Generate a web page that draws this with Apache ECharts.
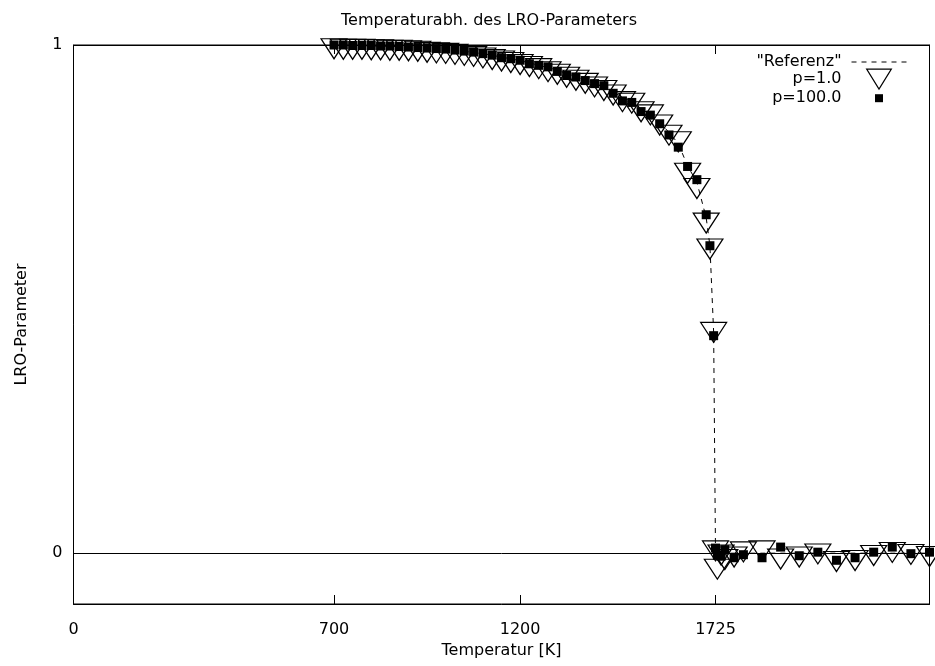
<!DOCTYPE html>
<html>
<head>
    <meta charset="utf-8">
    <title>Temperaturabh. des LRO-Parameters</title>
    <style>
        body {
            margin: 0;
            padding: 0;
            background-color: #fff;
        }
        #chart {
            width: 935px;
            height: 666px;
        }
    </style>
</head>
<body>
    <div id="chart"></div>

    <script src="https://cdn.jsdelivr.net/npm/echarts@6.0.0/dist/echarts.min.js"></script>
    <script>
        // Temperatur [K] der Messpunkte
        const temps = [700, 725, 750, 775, 800, 825, 850, 875, 900, 925, 950, 975, 1000, 1025, 1050, 1075,
            1100, 1125, 1150, 1175, 1200, 1225, 1250, 1275, 1300, 1325, 1350, 1375, 1400, 1425, 1450, 1475,
            1500, 1525, 1550, 1575, 1600, 1625, 1650, 1675, 1700, 1710, 1720,
            1725, 1730, 1740, 1750, 1775, 1800, 1850, 1900, 1950, 2000, 2050, 2100, 2150, 2200, 2250, 2300];

        // LRO-Parameter
        const lroRef = [1.000, 1.000, 0.999, 0.999, 0.998, 0.998, 0.997, 0.997, 0.996, 0.995, 0.994, 0.992, 0.991, 0.990, 0.988, 0.985,
            0.983, 0.980, 0.976, 0.973, 0.969, 0.965, 0.960, 0.956, 0.950, 0.944, 0.938, 0.931, 0.924, 0.917, 0.908, 0.897,
            0.888, 0.874, 0.864, 0.848, 0.828, 0.806, 0.762, 0.730, 0.660, 0.605, 0.435,
            0.000, 0.000, 0.000, 0.000, 0.000, 0.000, 0.000, 0.000, 0.000, 0.000, 0.000, 0.000, 0.000, 0.000, 0.000, 0.000];
        const lroP1 = [1.000, 0.999, 0.999, 0.999, 0.998, 0.998, 0.997, 0.997, 0.996, 0.995, 0.993, 0.992, 0.991, 0.989, 0.987, 0.985,
            0.982, 0.979, 0.976, 0.973, 0.969, 0.965, 0.961, 0.955, 0.950, 0.944, 0.938, 0.932, 0.925, 0.918, 0.909, 0.896,
            0.893, 0.876, 0.870, 0.850, 0.830, 0.817, 0.755, 0.725, 0.657, 0.606, 0.442,
            0.012, -0.024, 0.004, -0.005, 0.000, 0.010, 0.012, -0.004, 0.000, 0.006, -0.009, -0.007, 0.003, 0.009, 0.005, 0.001];
        const lroP100 = [1.000, 1.000, 0.999, 0.999, 0.999, 0.998, 0.998, 0.997, 0.996, 0.995, 0.994, 0.993, 0.992, 0.990, 0.988, 0.986,
            0.983, 0.980, 0.975, 0.973, 0.970, 0.963, 0.960, 0.957, 0.948, 0.940, 0.937, 0.930, 0.924, 0.920, 0.905, 0.890,
            0.887, 0.869, 0.862, 0.845, 0.823, 0.799, 0.761, 0.735, 0.666, 0.605, 0.428,
            0.010, -0.004, -0.006, 0.007, -0.009, -0.003, -0.009, 0.012, -0.005, 0.002, -0.014, -0.009, 0.002, 0.012, -0.001, 0.002];

        const xTicks = [0, 700, 1200, 1725];
        const yTicks = [0, 1];

        const font = '"DejaVu Sans", sans-serif';
        const triangle = 'path://M0,0 L200,0 L100,162 Z';

        function pairs(ys) {
            return temps.map((t, i) => [t, ys[i]]);
        }

        const chart = echarts.init(document.getElementById('chart'));

        const xAxisBase = {
            type: 'value',
            min: 0,
            max: 2300,
            axisLine: { show: true, onZero: false, lineStyle: { color: '#000', width: 1 } },
            axisTick: { show: true, inside: true, length: 9, customValues: xTicks, lineStyle: { color: '#000' } },
            splitLine: { show: false }
        };
        const yAxisBase = {
            type: 'value',
            min: -0.1,
            max: 1,
            axisLine: { show: true, onZero: false, lineStyle: { color: '#000', width: 1 } },
            axisTick: { show: true, inside: true, length: 9, customValues: yTicks, lineStyle: { color: '#000' } },
            splitLine: { show: false }
        };

        const option = {
            animation: false,
            title: {
                text: 'Temperaturabh. des LRO-Parameters',
                left: 336,
                top: 8,
                textStyle: { fontFamily: font, fontSize: 16, fontWeight: 'normal', color: '#000' }
            },
            grid: {
                left: 73.5,
                right: 5.5,
                top: 45,
                bottom: 62,
                show: true,
                borderColor: '#000',
                borderWidth: 1
            },
            legend: {
                orient: 'vertical',
                align: 'right',
                right: 28,
                top: 54,
                padding: 0,
                itemWidth: 55,
                itemHeight: 20,
                itemGap: -1.5,
                selectedMode: false,
                textStyle: { fontFamily: font, fontSize: 16, color: '#000', padding: [0, 5, 0, 0] },
                data: [
                    { name: '"Referenz"', itemStyle: { opacity: 0 }, lineStyle: { width: 1 } },
                    { name: 'p=1.0', icon: triangle, itemStyle: { color: 'rgba(0,0,0,0)', borderColor: '#000', borderWidth: 1.2 } },
                    { name: 'p=100.0', icon: 'path://M0,0 M20,20 M6,6 L14,6 L14,14 L6,14 Z', itemStyle: { color: '#000', borderWidth: 0 } }
                ]
            },
            xAxis: [
                Object.assign({}, xAxisBase, {
                    position: 'bottom',
                    name: 'Temperatur [K]',
                    nameLocation: 'middle',
                    nameGap: 36,
                    nameTextStyle: { fontFamily: font, fontSize: 16, color: '#000' },
                    axisLabel: {
                        customValues: xTicks, margin: 18, fontFamily: font, fontSize: 16, color: '#000',
                        formatter: v => String(v)
                    }
                }),
                Object.assign({}, xAxisBase, {
                    position: 'top',
                    axisLabel: { show: false }
                })
            ],
            yAxis: [
                Object.assign({}, yAxisBase, {
                    position: 'left',
                    name: 'LRO-Parameter',
                    nameLocation: 'middle',
                    nameGap: 44,
                    nameRotate: 90,
                    nameTextStyle: { fontFamily: font, fontSize: 16, color: '#000' },
                    axisLabel: {
                        customValues: yTicks, margin: 11, fontFamily: font, fontSize: 16, color: '#000',
                        formatter: v => String(v)
                    }
                }),
                Object.assign({}, yAxisBase, {
                    position: 'right',
                    axisLabel: { show: false }
                })
            ],
            series: [
                {
                    name: '"Referenz"',
                    type: 'line',
                    data: pairs(lroRef),
                    symbol: 'none',
                    lineStyle: { color: '#000', width: 1, type: [5, 5] },
                    itemStyle: { color: '#000' },
                    z: 1,
                    markLine: {
                        silent: true,
                        symbol: ['none', 'none'],
                        label: { show: false },
                        lineStyle: { color: '#000', width: 1, type: 'solid' },
                        data: [{ yAxis: 0 }]
                    }
                },
                {
                    name: 'p=1.0',
                    type: 'scatter',
                    data: pairs(lroP1),
                    symbol: triangle,
                    symbolSize: [26, 20],
                    symbolOffset: [0, 3.8],
                    itemStyle: { color: 'rgba(0,0,0,0)', borderColor: '#000', borderWidth: 1.2, opacity: 1 },
                    z: 2
                },
                {
                    name: 'p=100.0',
                    type: 'scatter',
                    data: pairs(lroP100),
                    symbol: 'rect',
                    symbolSize: 9,
                    itemStyle: { color: '#000', opacity: 1 },
                    z: 3
                }
            ]
        };

        chart.setOption(option);
    </script>
</body>
</html>
